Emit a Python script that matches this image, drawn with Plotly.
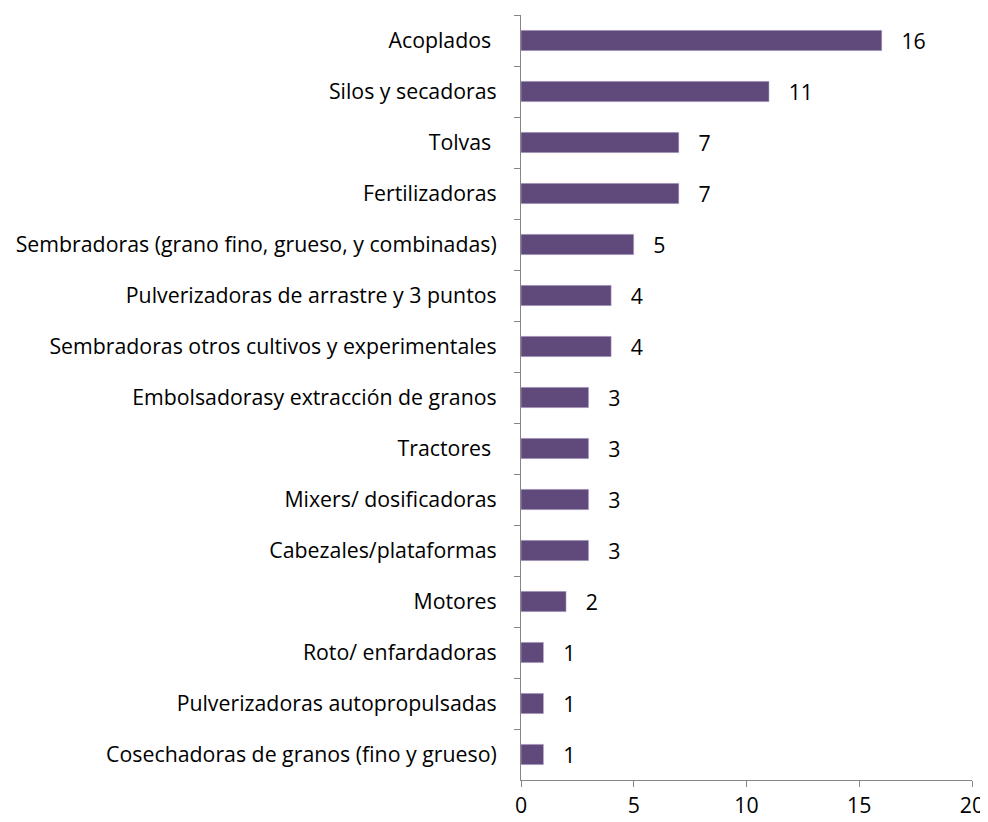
import plotly.graph_objects as go

categories = [
    "Acoplados ",
    "Silos y secadoras",
    "Tolvas ",
    "Fertilizadoras",
    "Sembradoras (grano fino, grueso, y combinadas)",
    "Pulverizadoras de arrastre y 3 puntos",
    "Sembradoras otros cultivos y experimentales",
    "Embolsadorasy extracción de granos",
    "Tractores ",
    "Mixers/ dosificadoras",
    "Cabezales/plataformas",
    "Motores",
    "Roto/ enfardadoras",
    "Pulverizadoras autopropulsadas",
    "Cosechadoras de granos (fino y grueso)",
]
values = [16, 11, 7, 7, 5, 4, 4, 3, 3, 3, 3, 2, 1, 1, 1]
x_ticks = [0, 5, 10, 15, 20]

font_family = "'Open Sans', sans-serif"
fs = 21.3

fig = go.Figure(go.Bar(
    x=values,
    y=categories,
    orientation="h",
    marker=dict(color="#604A7B", line=dict(color="#C8BEDA", width=0.5)),
    width=0.4,
    text=["   " + str(v) for v in values],
    textposition="outside",
    constraintext="none",
    textfont=dict(size=fs, color="#000000", family=font_family),
    cliponaxis=False,
))

fig.update_layout(
    width=980, height=814,
    margin=dict(l=513, r=16, t=7, b=42),
    plot_bgcolor="white", paper_bgcolor="white",
    showlegend=False,
    font=dict(family=font_family, size=fs, color="#000000"),
)
fig.update_xaxes(
    range=[0, 20], tickvals=x_ticks, showgrid=False, zeroline=False,
    showline=True, linecolor="#868686", linewidth=1,
    ticks="outside", ticklen=6, tickcolor="#868686",
    tickfont=dict(size=fs), automargin=False,
    ticklabeloverflow="allow", ticklabelstandoff=0,
)
fig.update_yaxes(
    autorange="reversed", showgrid=False, zeroline=False,
    showline=True, linecolor="#868686", linewidth=1,
    ticks="outside", ticklen=6, tickcolor="#868686", tickson="boundaries",
    tickfont=dict(size=fs), ticklabelstandoff=19, automargin=False,
)

fig.write_html("out.html")
